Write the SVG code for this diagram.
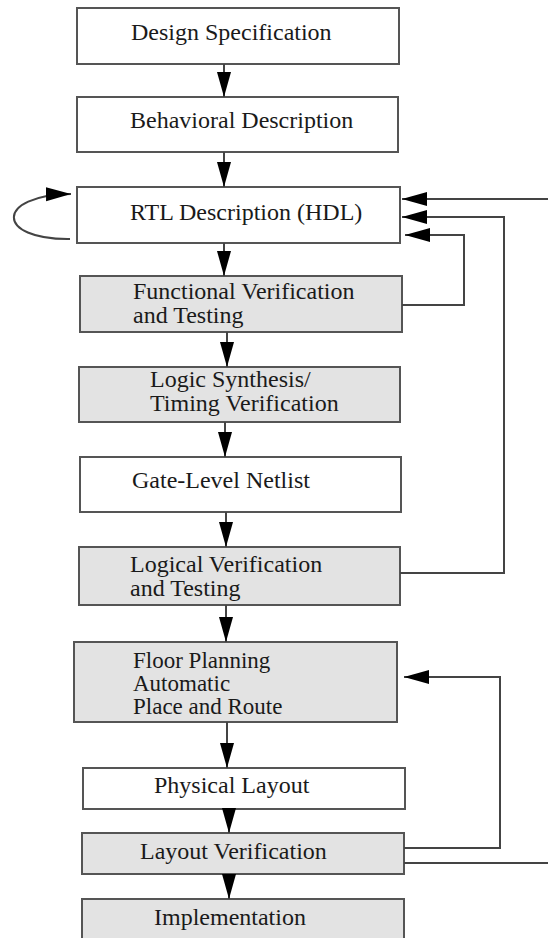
<svg xmlns="http://www.w3.org/2000/svg" width="548" height="938" viewBox="0 0 548 938">
<defs>
<style>
.box{fill:#ffffff;stroke:#555555;stroke-width:2}
.gray{fill:#e3e3e3;stroke:#555555;stroke-width:2}
.lbl{font-family:"Liberation Serif","Times New Roman",serif;font-size:24px;fill:#1a1a1a}
.sm{font-size:23px}
.con{fill:none;stroke:#444444;stroke-width:2}
</style>
<marker id="ah" markerUnits="userSpaceOnUse" markerWidth="26" markerHeight="16" refX="25" refY="7" orient="auto">
<path d="M0,0 L25,7 L0,14 z" fill="#000000"/>
</marker>
</defs>
<rect width="548" height="938" fill="#ffffff"/>
<g id="n1"><rect class="box" x="77" y="8" width="322" height="56"/><text class="lbl" x="131" y="40">Design Specification</text></g>
<g id="n2"><rect class="box" x="77" y="97" width="321" height="55"/><text class="lbl" x="130" y="128">Behavioral Description</text></g>
<g id="n3"><rect class="box" x="77" y="187" width="323" height="56"/><text class="lbl" x="130" y="220">RTL Description (HDL)</text></g>
<g id="n4"><rect class="gray" x="80" y="276" width="322" height="56"/><text class="lbl" x="133" y="299">Functional Verification</text><text class="lbl" x="133" y="323">and Testing</text></g>
<g id="n5"><rect class="gray" x="79" y="367" width="321" height="55"/><text class="lbl" x="150" y="387">Logic Synthesis/</text><text class="lbl" x="150" y="411">Timing Verification</text></g>
<g id="n6"><rect class="box" x="80" y="457" width="321" height="55"/><text class="lbl" x="132" y="488">Gate-Level Netlist</text></g>
<g id="n7"><rect class="gray" x="79" y="547" width="321" height="58"/><text class="lbl" x="130" y="572">Logical Verification</text><text class="lbl" x="130" y="596">and Testing</text></g>
<g id="n8"><rect class="gray" x="74" y="642" width="323" height="80"/><text class="lbl sm" x="133" y="668">Floor Planning</text><text class="lbl sm" x="133" y="691">Automatic</text><text class="lbl sm" x="133" y="714">Place and Route</text></g>
<g id="n9"><rect class="box" x="83" y="768" width="322" height="41"/><text class="lbl" x="154" y="793">Physical Layout</text></g>
<g id="n10"><rect class="gray" x="82" y="833" width="322" height="41"/><text class="lbl" x="140" y="859">Layout Verification</text></g>
<g id="n11"><rect class="gray" x="82" y="899" width="322" height="50"/><text class="lbl" x="154" y="925">Implementation</text></g>
<g id="connectors">
<line class="con" x1="224" y1="64" x2="224" y2="97" marker-end="url(#ah)"/>
<line class="con" x1="224" y1="152" x2="224" y2="187" marker-end="url(#ah)"/>
<line class="con" x1="224" y1="243" x2="224" y2="276" marker-end="url(#ah)"/>
<line class="con" x1="227" y1="332" x2="227" y2="367" marker-end="url(#ah)"/>
<line class="con" x1="225" y1="422" x2="225" y2="457" marker-end="url(#ah)"/>
<line class="con" x1="226" y1="512" x2="226" y2="547" marker-end="url(#ah)"/>
<line class="con" x1="226" y1="605" x2="226" y2="642" marker-end="url(#ah)"/>
<line class="con" x1="227" y1="722" x2="227" y2="768" marker-end="url(#ah)"/>
<line class="con" x1="229" y1="809" x2="229" y2="833" marker-end="url(#ah)"/>
<line class="con" x1="229" y1="874" x2="229" y2="899" marker-end="url(#ah)"/>
<path class="con" d="M70,239 C-5,240 -5,195 71,194" marker-end="url(#ah)"/>
<line class="con" x1="548" y1="199" x2="402" y2="199" marker-end="url(#ah)"/>
<polyline class="con" points="400,573 504,573 504,217 402,217" marker-end="url(#ah)"/>
<polyline class="con" points="402,305 464,305 464,235 405,235" marker-end="url(#ah)"/>
<polyline class="con" points="404,848 500,848 500,677 404,677" marker-end="url(#ah)"/>
<line class="con" x1="404" y1="863" x2="548" y2="863"/>
</g>
</svg>
